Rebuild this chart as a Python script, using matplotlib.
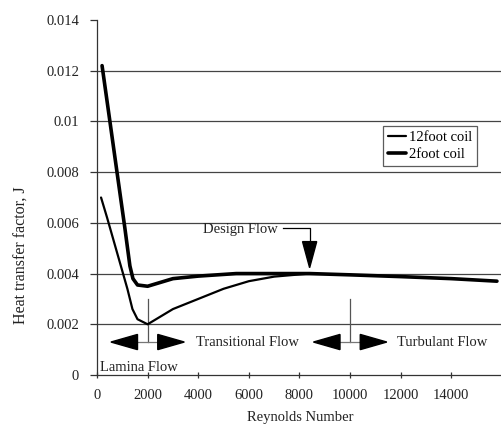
import matplotlib
matplotlib.use("Agg")
import matplotlib.pyplot as plt
from matplotlib.patches import Polygon

plt.rcParams['font.family'] = ['Liberation Serif', 'DejaVu Serif']

# Data
re_12ft = [160, 400, 800, 1200, 1400, 1600, 2000, 3000, 4000, 5000, 6000, 7000, 8400]
j_12ft = [0.0070, 0.0062, 0.0048, 0.0034, 0.0026, 0.0022, 0.0020, 0.0026, 0.0030,
          0.0034, 0.0037, 0.00388, 0.0040]

re_2ft = [200, 510, 790, 1100, 1300, 1420, 1600, 2000, 3000, 4000, 5500, 7000, 8400,
          10000, 12000, 14000, 15800]
j_2ft = [0.0122, 0.0100, 0.0080, 0.0058, 0.0043, 0.0038, 0.00355, 0.0035, 0.0038, 0.0039,
         0.0040, 0.0040, 0.0040, 0.00395, 0.00388, 0.0038, 0.0037]

x_ticks = [0, 2000, 4000, 6000, 8000, 10000, 12000, 14000]
y_ticks = [0, 0.002, 0.004, 0.006, 0.008, 0.01, 0.012, 0.014]
y_ticklabels = ['0', '0.002', '0.004', '0.006', '0.008', '0.01', '0.012', '0.014']
grid_levels = [0.002, 0.004, 0.006, 0.008, 0.01, 0.012]

series_names = ['12foot coil', '2foot coil']
design_flow = 8400
transition_points = [2000, 10000]

FS = 10.5
TXT = '#222222'

fig = plt.figure(figsize=(5.02, 4.30), dpi=100)
ax = fig.add_axes([97/502, 55/430, 405/502, 355/430])
ax.set_xlim(0, 16000)
ax.set_ylim(0, 0.014)

for g in grid_levels:
    ax.axhline(g, color='#444444', lw=0.9, zorder=1)

ax.plot(re_12ft, j_12ft, color='black', lw=1.6, label=series_names[0], zorder=3,
        solid_joinstyle='round', solid_capstyle='round')
ax.plot(re_2ft, j_2ft, color='black', lw=2.6, label=series_names[1], zorder=3,
        solid_joinstyle='round', solid_capstyle='round')

for s in ['top', 'right']:
    ax.spines[s].set_visible(False)
for s in ['left', 'bottom']:
    ax.spines[s].set_color('#333333')
    ax.spines[s].set_linewidth(0.9)

ax.set_xticks(x_ticks)
ax.set_xticklabels([str(v) for v in x_ticks])
ax.set_yticks(y_ticks)
ax.set_yticklabels(y_ticklabels)
ax.tick_params(axis='y', direction='out', length=5, width=0.9, pad=8,
               labelsize=FS, colors='#333333', labelcolor=TXT)
ax.tick_params(axis='x', direction='inout', length=4, width=0.9, pad=8,
               labelsize=FS, colors='#333333', labelcolor=TXT)

fig.text(300/502, 1-417/430, 'Reynolds Number', ha='center', va='center',
         fontsize=FS, color=TXT)
fig.text(22/502, 1-255/430, 'Heat transfer factor, J', ha='center', va='center',
         rotation=90, fontsize=11.5, color=TXT)

# Design flow annotation
ax.text(7150, 0.00573, 'Design Flow', ha='right', va='center', fontsize=FS, color=TXT)
ax.plot([7350, design_flow, design_flow], [0.0058, 0.0058, 0.0052], color='black', lw=0.9)
ax.add_patch(Polygon([[design_flow - 280, 0.00526], [design_flow + 280, 0.00526],
                      [design_flow, 0.00423]], closed=True, color='black', zorder=4))

# Transition markers
for xp in transition_points:
    ax.plot([xp, xp], [0.00298, 0.0013], color='#555555', lw=0.9)
    ax.plot([xp - 400, xp + 400], [0.0013, 0.0013], color='#777777', lw=0.9)
    ax.add_patch(Polygon([[xp - 400, 0.00160], [xp - 400, 0.00100], [xp - 1450, 0.0013]],
                         closed=True, color='black', zorder=4))
    ax.add_patch(Polygon([[xp + 400, 0.00160], [xp + 400, 0.00100], [xp + 1450, 0.0013]],
                         closed=True, color='black', zorder=4))

ax.text(5950, 0.0013, 'Transitional Flow', ha='center', va='center', fontsize=FS, color=TXT)
ax.text(11850, 0.0013, 'Turbulant Flow', ha='left', va='center', fontsize=FS, color=TXT)
ax.text(130, 0.0003, 'Lamina Flow', ha='left', va='center', fontsize=FS, color=TXT)

leg = ax.legend(loc='upper left', bbox_to_anchor=(383/502, 1-126/430),
                bbox_transform=fig.transFigure, frameon=True, fancybox=False,
                edgecolor='#333333', fontsize=FS, handlelength=1.2, handletextpad=0.2,
                borderpad=0.35, labelspacing=0.25, borderaxespad=0)
leg.get_frame().set_linewidth(0.9)

fig.savefig('out.png', dpi=100)
